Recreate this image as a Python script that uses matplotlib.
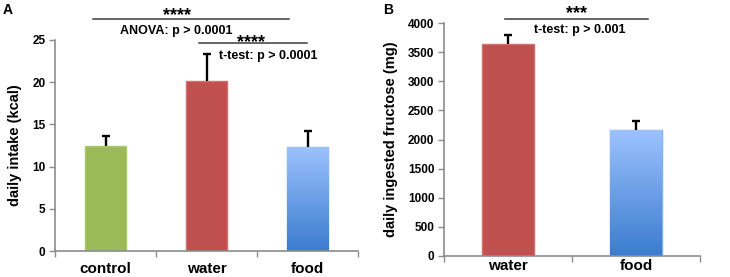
import numpy as np
import matplotlib
matplotlib.use('Agg')
import matplotlib.pyplot as plt
from matplotlib.colors import LinearSegmentedColormap

plt.rcParams['font.family'] = ['Liberation Sans', 'DejaVu Sans']
plt.rcParams['font.weight'] = 'bold'

# panel A
groups_a = ['control', 'water', 'food']
intake = [12.4, 20.1, 12.3]
intake_err = [1.2, 3.2, 1.9]

# panel B
groups_b = ['water', 'food']
fructose = [3640, 2160]
fructose_err = [160, 160]

green = '#9BBB59'
red = '#C0504D'
blue_cmap = LinearSegmentedColormap.from_list('bl', ['#3B7CCF', '#9CC2FE'])

fig = plt.figure(figsize=(7.3, 2.77), dpi=100)
axA = fig.add_axes([55/730, 1-251/277, 303/730, 211/277])
axB = fig.add_axes([444/730, 1-256/277, 256/730, 233/277])

W, H = 730, 277


def fx(px):
    return px / W


def fy(py):
    return 1 - py / H


def grad_bar(ax, bar):
    x0, y0 = bar.get_x(), bar.get_y()
    w, h = bar.get_width(), bar.get_height()
    grad = np.linspace(0, 1, 256).reshape(-1, 1)
    im = ax.imshow(grad, cmap=blue_cmap, origin='lower', aspect='auto',
                   extent=[x0, x0 + w, y0, y0 + h], zorder=2)
    im.set_clip_path(bar)
    bar.set_facecolor('none')


def up_err(ax, x, y, err):
    eb = ax.errorbar(x, y, yerr=[np.zeros(len(x)), err], fmt='none', ecolor='black',
                     elinewidth=1.7, capsize=3, capthick=1.7, zorder=3)
    eb[1][0].set_visible(False)


def style(ax, n, pad):
    for s in ['top', 'right']:
        ax.spines[s].set_visible(False)
    for s in ['left', 'bottom']:
        ax.spines[s].set_color('#8c8c8c')
        ax.spines[s].set_linewidth(1.2)
    ax.set_xlim(-0.5, n - 0.5)
    ax.set_xticks(np.arange(n))
    ax.set_xticks(np.arange(n + 1) - 0.5, minor=True)
    ax.tick_params(axis='x', which='major', length=0, labelsize=11, pad=pad)
    ax.tick_params(axis='x', which='minor', length=4, color='#8c8c8c', width=1)
    ax.tick_params(axis='y', length=4, color='#8c8c8c', width=1, labelsize=8.5, pad=3)
    for t in ax.get_yticklabels():
        t.set_fontweight('bold')


def bracket(x0, x1, y, stars, sx, sy, label, lx, ly):
    fig.add_artist(plt.Line2D([fx(x0), fx(x1)], [fy(y), fy(y)], color='#3a3a3a', lw=1.1))
    fig.text(fx(sx), fy(sy), stars, fontsize=13, fontweight='bold', ha='center', va='baseline')
    fig.text(fx(lx), fy(ly), label, fontsize=9, fontweight='bold', ha='center', va='center')


# ---- A ----
xa = np.arange(len(groups_a))
bars = axA.bar(xa, intake, width=0.41, color=[green, red, '#6fa0e8'],
               edgecolor=['#a9c96b', '#d2706c', '#7fb0f5'], linewidth=1, zorder=2)
up_err(axA, xa, intake, intake_err)
grad_bar(axA, bars[2])
axA.set_ylim(0, 25)
axA.set_yticks(range(0, 26, 5))
axA.set_xticklabels(groups_a, fontweight='bold')
style(axA, 3, 8)
axA.set_ylabel('daily intake (kcal)', fontsize=10.5, fontweight='bold', labelpad=7)

fig.text(fx(3), fy(9.5), 'A', fontsize=10, fontweight='bold', va='center')
bracket(93, 289, 19, '****', 177, 20, 'ANOVA: p > 0.0001', 176, 31)
bracket(199, 307, 43, '****', 251, 47.5, 't-test: p > 0.0001', 268, 56)

# ---- B ----
xb = np.arange(len(groups_b))
bars = axB.bar(xb, fructose, width=0.4, color=[red, '#6fa0e8'],
               edgecolor=['#d2706c', '#7fb0f5'], linewidth=1, zorder=2)
up_err(axB, xb, fructose, fructose_err)
grad_bar(axB, bars[1])
axB.set_ylim(0, 4000)
axB.set_yticks(range(0, 4001, 500))
axB.set_xticklabels(groups_b, fontweight='bold')
style(axB, 2, 2)
axB.set_ylabel('daily ingested fructose (mg)', fontsize=10.5, fontweight='bold', labelpad=7)

fig.text(fx(383), fy(9.5), 'B', fontsize=10, fontweight='bold', va='center')
bracket(505, 648, 19, '***', 577, 18.5, 't-test: p > 0.001', 580, 30)

fig.savefig('out.png', dpi=100)
